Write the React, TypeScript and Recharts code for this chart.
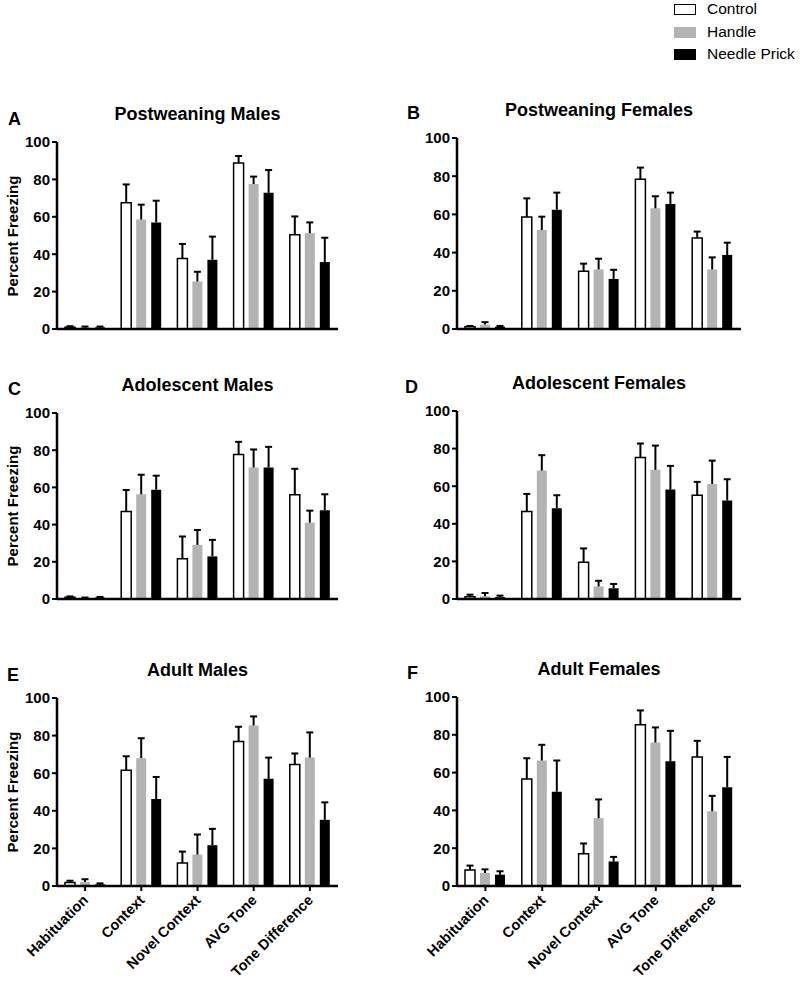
import React from "react";
import { BarChart, Bar, XAxis, YAxis } from "recharts";

const categories = ["Habituation", "Context", "Novel Context", "AVG Tone", "Tone Difference"];
const yTicks = [0, 20, 40, 60, 80, 100];

// A - postweaning males
const pwMaleCtrl = [1.0, 67.5, 37.7, 88.8, 50.4];
const pwMaleCtrlSem = [0.5, 9.8, 7.8, 3.7, 9.8];
const pwMaleHandle = [0.8, 58.5, 25.4, 77.5, 51.2];
const pwMaleHandleSem = [0.5, 8.0, 5.2, 4.0, 5.8];
const pwMaleNeedle = [0.9, 57.0, 37.0, 72.8, 35.8];
const pwMaleNeedleSem = [0.4, 11.6, 12.4, 12.2, 13.0];

// B - postweaning females
const pwFemCtrl = [1.2, 58.6, 30.2, 78.4, 47.6];
const pwFemCtrlSem = [0.4, 9.8, 4.0, 6.1, 3.4];
const pwFemHandle = [2.3, 51.8, 31.2, 63.2, 31.2];
const pwFemHandleSem = [1.3, 7.0, 5.6, 6.3, 6.3];
const pwFemNeedle = [1.2, 62.5, 26.2, 65.5, 38.8];
const pwFemNeedleSem = [0.4, 8.9, 4.8, 5.9, 6.4];

// C - adolescent males
const adMaleCtrl = [1.0, 47.0, 21.6, 77.7, 56.0];
const adMaleCtrlSem = [0.4, 11.6, 12.0, 6.8, 14.0];
const adMaleHandle = [0.5, 56.3, 29.1, 70.7, 41.0];
const adMaleHandleSem = [0.3, 10.5, 8.0, 9.7, 6.5];
const adMaleNeedle = [0.8, 58.8, 22.9, 70.7, 47.7];
const adMaleNeedleSem = [0.3, 7.5, 8.9, 11.1, 8.6];

// D - adolescent females
const adFemCtrl = [1.2, 46.5, 19.5, 75.2, 55.2];
const adFemCtrlSem = [1.1, 9.4, 7.4, 7.5, 7.1];
const adFemHandle = [1.5, 68.3, 6.7, 68.7, 61.2];
const adFemHandleSem = [1.7, 8.2, 3.0, 12.9, 12.4];
const adFemNeedle = [1.0, 48.3, 5.7, 58.2, 52.4];
const adFemNeedleSem = [0.8, 6.9, 2.3, 12.6, 11.3];

// E - adult males
const adultMaleCtrl = [1.8, 61.6, 12.3, 76.9, 64.6];
const adultMaleCtrlSem = [1.0, 7.4, 6.0, 7.8, 5.9];
const adultMaleHandle = [2.1, 68.0, 16.7, 85.4, 68.3];
const adultMaleHandleSem = [1.5, 10.6, 10.7, 4.8, 13.4];
const adultMaleNeedle = [0.9, 46.3, 21.7, 57.0, 35.2];
const adultMaleNeedleSem = [0.5, 11.7, 8.7, 11.3, 9.3];

// F - adult females
const adultFemCtrl = [8.5, 56.6, 17.0, 85.3, 68.3];
const adultFemCtrlSem = [2.3, 11.0, 5.5, 7.6, 8.5];
const adultFemHandle = [6.9, 66.4, 35.9, 75.9, 39.5];
const adultFemHandleSem = [1.9, 8.3, 9.9, 8.0, 8.2];
const adultFemNeedle = [6.0, 49.9, 13.0, 66.0, 52.3];
const adultFemNeedleSem = [1.8, 16.5, 2.4, 16.1, 16.0];

const GREY = "#b3b3b3";
const FONT = '"Liberation Sans", Arial, sans-serif';

function buildRows(
  ctrl: number[], ctrlSem: number[],
  handle: number[], handleSem: number[],
  needle: number[], needleSem: number[]
) {
  return categories.map((cat, i) => ({
    cat,
    ctrl: ctrl[i], ctrlErr: ctrlSem[i],
    handle: handle[i], handleErr: handleSem[i],
    needle: needle[i], needleErr: needleSem[i],
  }));
}

// error segment stacked on top of each bar, drawn as a T
const ErrorCap = (props: any) => {
  const { x, y, width, height } = props;
  if (x == null || y == null) return null;
  const cx = x + width / 2;
  return (
    <g>
      <line x1={cx} y1={y + height} x2={cx} y2={y} stroke="#000" strokeWidth={2} />
      <line x1={cx - 3.5} y1={y} x2={cx + 3.5} y2={y} stroke="#000" strokeWidth={2} />
    </g>
  );
};

const AngledTick = (props: any) => {
  const { x, y, payload } = props;
  return (
    <g transform={`translate(${x + 4},${y + 8})`}>
      <text
        x={0}
        y={0}
        textAnchor="end"
        transform="rotate(-45)"
        fill="#000"
        fontSize={14.5}
        fontWeight="bold"
        fontFamily={FONT}
      >
        {payload.value}
      </text>
    </g>
  );
};

interface PanelProps {
  letter: string;
  title: string;
  rows: any[];
  chartLeft: number;
  plotLeft: number;
  plotRight: number;
  plotTop: number;
  plotBottom: number;
  titleY: number;
  letterX: number;
  letterY: number;
  showX: boolean;
  showYLabel: boolean;
}

function Panel(p: PanelProps) {
  const xHeight = p.showX ? 983 - p.plotBottom - 2 : 14;
  const width = p.plotRight - p.chartLeft + 7;
  const height = 10 + (p.plotBottom - p.plotTop) + xHeight;
  const midX = (p.plotLeft + p.plotRight) / 2;
  return (
    <>
      <div style={{ position: "absolute", left: p.letterX, top: p.letterY - 11, fontSize: 18, fontWeight: "bold", lineHeight: "22px" }}>
        {p.letter}
      </div>
      <div style={{ position: "absolute", left: midX - 150, width: 300, top: p.titleY - 11, textAlign: "center", fontSize: 18, fontWeight: "bold", lineHeight: "22px" }}>
        {p.title}
      </div>
      {p.showYLabel && (
        <div
          style={{
            position: "absolute",
            left: 13 - 100,
            width: 200,
            top: (p.plotTop + p.plotBottom) / 2 - 10,
            lineHeight: "20px",
            textAlign: "center",
            fontSize: 15,
            fontWeight: "bold",
            transform: "rotate(-90deg)",
          }}
        >
          Percent Freezing
        </div>
      )}
      <div style={{ position: "absolute", left: p.chartLeft, top: p.plotTop - 10 }}>
        <BarChart
          width={width}
          height={height}
          data={p.rows}
          margin={{ top: 10, right: 7, left: 0, bottom: 0 }}
          barCategoryGap={8}
          barGap={5}
        >
          <XAxis
            dataKey="cat"
            interval={0}
            height={xHeight}
            axisLine={{ stroke: "#000", strokeWidth: 2.5 }}
            tickLine={p.showX ? { stroke: "#000", strokeWidth: 2 } : false}
            tickSize={5}
            tick={p.showX ? <AngledTick /> : false}
          />
          <YAxis
            type="number"
            domain={[0, 100]}
            ticks={yTicks}
            interval={0}
            width={p.plotLeft - p.chartLeft}
            axisLine={{ stroke: "#000", strokeWidth: 2.5 }}
            tickLine={{ stroke: "#000", strokeWidth: 2 }}
            tickSize={5}
            tickMargin={2}
            tick={{ fill: "#000", fontSize: 15, fontWeight: "bold", fontFamily: FONT }}
          />
          <Bar dataKey="ctrl" stackId="c" fill="#fff" stroke="#000" strokeWidth={1.5} isAnimationActive={false} />
          <Bar dataKey="ctrlErr" stackId="c" shape={<ErrorCap />} isAnimationActive={false} />
          <Bar dataKey="handle" stackId="h" fill={GREY} isAnimationActive={false} />
          <Bar dataKey="handleErr" stackId="h" shape={<ErrorCap />} isAnimationActive={false} />
          <Bar dataKey="needle" stackId="n" fill="#000" isAnimationActive={false} />
          <Bar dataKey="needleErr" stackId="n" shape={<ErrorCap />} isAnimationActive={false} />
        </BarChart>
      </div>
    </>
  );
}

const legendItems = [
  { label: "Control", fill: "#fff", y: 9 },
  { label: "Handle", fill: GREY, y: 32 },
  { label: "Needle Prick", fill: "#000", y: 54 },
];

export default function App() {
  return (
    <div style={{ position: "absolute", left: 0, top: 0, width: 800, height: 983, background: "#fff", fontFamily: FONT, color: "#000", overflow: "hidden" }}>
      {legendItems.map((it) => (
        <React.Fragment key={it.label}>
          <div
            style={{
              position: "absolute",
              left: 674,
              top: it.y - 5,
              width: 20,
              height: 9,
              background: it.fill,
              border: it.fill === "#fff" ? "1px solid #000" : `1px solid ${it.fill}`,
            }}
          />
          <div style={{ position: "absolute", left: 707, top: it.y - 10, fontSize: 15.5, lineHeight: "20px" }}>{it.label}</div>
        </React.Fragment>
      ))}

      <Panel letter="A" title="Postweaning Males"
        rows={buildRows(pwMaleCtrl, pwMaleCtrlSem, pwMaleHandle, pwMaleHandleSem, pwMaleNeedle, pwMaleNeedleSem)}
        chartLeft={0} plotLeft={57} plotRight={338} plotTop={142} plotBottom={329}
        titleY={114} letterX={8} letterY={119} showX={false} showYLabel />
      <Panel letter="B" title="Postweaning Females"
        rows={buildRows(pwFemCtrl, pwFemCtrlSem, pwFemHandle, pwFemHandleSem, pwFemNeedle, pwFemNeedleSem)}
        chartLeft={400} plotLeft={457} plotRight={741} plotTop={138} plotBottom={329}
        titleY={110} letterX={407} letterY={113} showX={false} showYLabel={false} />
      <Panel letter="C" title="Adolescent Males"
        rows={buildRows(adMaleCtrl, adMaleCtrlSem, adMaleHandle, adMaleHandleSem, adMaleNeedle, adMaleNeedleSem)}
        chartLeft={0} plotLeft={57} plotRight={338} plotTop={413} plotBottom={599}
        titleY={385} letterX={8} letterY={389} showX={false} showYLabel />
      <Panel letter="D" title="Adolescent Females"
        rows={buildRows(adFemCtrl, adFemCtrlSem, adFemHandle, adFemHandleSem, adFemNeedle, adFemNeedleSem)}
        chartLeft={400} plotLeft={457} plotRight={741} plotTop={411} plotBottom={599}
        titleY={383} letterX={405} letterY={387} showX={false} showYLabel={false} />
      <Panel letter="E" title="Adult Males"
        rows={buildRows(adultMaleCtrl, adultMaleCtrlSem, adultMaleHandle, adultMaleHandleSem, adultMaleNeedle, adultMaleNeedleSem)}
        chartLeft={0} plotLeft={57} plotRight={338} plotTop={698} plotBottom={886}
        titleY={670} letterX={7} letterY={675} showX showYLabel />
      <Panel letter="F" title="Adult Females"
        rows={buildRows(adultFemCtrl, adultFemCtrlSem, adultFemHandle, adultFemHandleSem, adultFemNeedle, adultFemNeedleSem)}
        chartLeft={400} plotLeft={457} plotRight={741} plotTop={697} plotBottom={886}
        titleY={669} letterX={407} letterY={673} showX showYLabel={false} />
    </div>
  );
}
